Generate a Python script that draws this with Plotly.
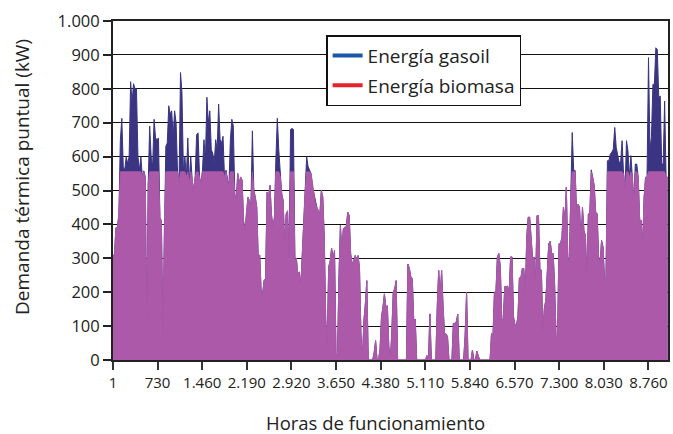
import plotly.graph_objects as go

# Daily peak thermal demand (kW), one value per 24 h step
demanda_total_kw = [
    300, 314, 390, 390, 430, 647, 713, 570, 560, 600,
    580, 600, 821, 760, 815, 800, 800, 600, 560, 600,
    540, 558, 540, 80, 520, 690, 600, 570, 710, 655,
    650, 655, 420, 410, 60, 400, 630, 640, 750, 725,
    735, 660, 735, 700, 555, 520, 848, 790, 555, 600,
    540, 655, 520, 600, 530, 500, 540, 665, 670, 540,
    520, 560, 650, 590, 775, 700, 735, 620, 610, 580,
    650, 620, 755, 650, 640, 660,
    540, 560, 530, 510, 650, 710, 690, 490, 470, 550,
    520, 540, 530, 410, 380, 440, 480, 470, 455, 676,
    500, 480, 450, 300, 310, 200, 196, 235, 240, 495,
    480, 515, 430, 390, 420, 590, 713, 620, 540, 490,
    470, 330, 430, 440, 295, 680, 683, 680, 295, 300,
    250, 260, 215, 325, 430, 500, 600, 570, 560, 550,
    510, 490, 460, 450, 440, 430, 500, 480, 360, 120,
    40, 275, 290, 330, 300,
    323, 20, 10, 245, 397, 320, 387, 392, 392, 436,
    426, 313, 285, 290, 308, 300, 308, 274, 77, 0,
    116, 165, 234, 0, 0, 0, 0, 22, 57, 0,
    0, 32, 126, 156, 195, 156, 160, 40, 0, 77,
    200, 210, 234, 0, 0, 0, 0, 0, 0, 0,
    283, 270, 245, 240, 116, 121, 0, 0, 0, 0,
    0, 0, 0, 13, 0, 136, 0, 0, 0, 0,
    156, 264, 190, 264, 156, 77, 77,
    69, 0, 0, 0, 108, 108, 113, 135, 0, 0,
    0, 0, 73, 200, 0, 0, 0, 29, 0, 0,
    26, 12, 0, 0, 0, 0, 0, 0, 0, 0,
    78, 69, 200, 200, 304, 314, 274, 118, 118, 216,
    216, 218, 191, 304, 304, 127, 103, 103, 127, 242,
    242, 270, 270, 186, 363, 421, 421, 343, 299, 304,
    216, 426, 426, 265, 265, 78, 152, 176, 245, 343,
    350, 314, 314, 225,
    64, 73, 343, 343, 362, 450, 412, 510, 304, 284,
    480, 671, 559, 559, 430, 460, 450, 343, 450, 382,
    367, 235, 431, 431, 561, 539, 514, 436, 431, 304,
    284, 353, 333, 240, 240, 588, 588, 608, 613, 622,
    686, 627, 603, 583, 583, 647, 549, 505, 647, 617,
    539, 603, 539, 466, 578, 578, 539, 412, 412, 333,
    480, 539, 539, 892, 622, 657, 813, 813, 921, 916,
    774, 779, 578, 578, 764, 539, 539,
]
potencia_biomasa_kw = 555          # biomass boiler capacity (cap of pink series)
paso_horas = 24                    # hours between samples
x_tickvals = [1, 730, 1460, 2190, 2920, 3650, 4380, 5110, 5840, 6570, 7300, 8030, 8760]
x_ticktext = ["1", "730", "1.460", "2.190", "2.920", "3.650", "4.380", "5.110",
              "5.840", "6.570", "7.300", "8.030", "8.760"]
y_tickvals = [0, 100, 200, 300, 400, 500, 600, 700, 800, 900, 1000]
y_ticktext = ["0", "100", "200", "300", "400", "500", "600", "700", "800", "900", "1.000"]

horas = [1 + paso_horas * i for i in range(len(demanda_total_kw))]
biomasa = [min(v, potencia_biomasa_kw) for v in demanda_total_kw]

NAVY = "#3a3482"
PINK = "#ad59a9"
FONT = "Open Sans"
TXT = "#222222"

fig = go.Figure()
fig.add_trace(go.Scatter(x=horas, y=demanda_total_kw, mode="lines",
                         line=dict(color=NAVY, width=1), fill="tozeroy",
                         fillcolor=NAVY, showlegend=False, hoverinfo="skip"))
fig.add_trace(go.Scatter(x=horas, y=biomasa, mode="lines",
                         line=dict(color=PINK, width=1), fill="tozeroy",
                         fillcolor=PINK, showlegend=False, hoverinfo="skip"))
# legend entries
fig.add_trace(go.Scatter(x=[None], y=[None], mode="lines", name="Energía gasoil",
                         line=dict(color="#1a57a6", width=4), legendgroup="a"))
fig.add_trace(go.Scatter(x=[None], y=[None], mode="lines", name="Energía biomasa",
                         line=dict(color="#e5232c", width=4), legendgroup="b"))

fig.update_layout(
    width=673, height=434,
    margin=dict(l=113, r=5, t=21, b=74),
    paper_bgcolor="white", plot_bgcolor="white",
    font=dict(family=FONT, color=TXT),
    legend=dict(x=0.384, y=0.958, xanchor="left", yanchor="top",
                bgcolor="white", bordercolor="#111111", borderwidth=1.5,
                font=dict(size=19, color=TXT), traceorder="grouped",
                tracegroupgap=2),
    annotations=[
        dict(text="Demanda térmica puntual (kW)", xref="paper", yref="paper",
             x=-0.164, y=0.54, textangle=-90, showarrow=False,
             xanchor="center", yanchor="middle",
             font=dict(size=19, color=TXT, family=FONT)),
        dict(text="Horas de funcionamiento", xref="paper", yref="paper",
             x=0.473, y=-0.183, showarrow=False, xanchor="center", yanchor="middle",
             font=dict(size=18.5, color=TXT, family=FONT)),
    ],
)
fig.update_xaxes(
    range=[1, 9080], tickmode="array", tickvals=x_tickvals, ticktext=x_ticktext,
    ticks="outside", ticklen=8, tickwidth=1.5, tickcolor="#333333",
    showline=True, linecolor="#222222", linewidth=1.5, mirror=True,
    showgrid=False, zeroline=False, automargin=False,
    tickfont=dict(size=15, color=TXT),
)
fig.update_yaxes(
    range=[0, 1000], tickmode="array", tickvals=y_tickvals, ticktext=y_ticktext,
    ticks="outside", ticklen=8, tickwidth=1.5, tickcolor="#222222",
    showline=True, linecolor="#222222", linewidth=2, mirror=True,
    showgrid=True, gridcolor="#111111", gridwidth=1.3, zeroline=False,
    automargin=False, tickfont=dict(size=16.5, color=TXT),
)

fig.write_html("out.html", config={"displayModeBar": False},
               post_script="document.body.style.margin='0';document.body.style.overflow='hidden';")
